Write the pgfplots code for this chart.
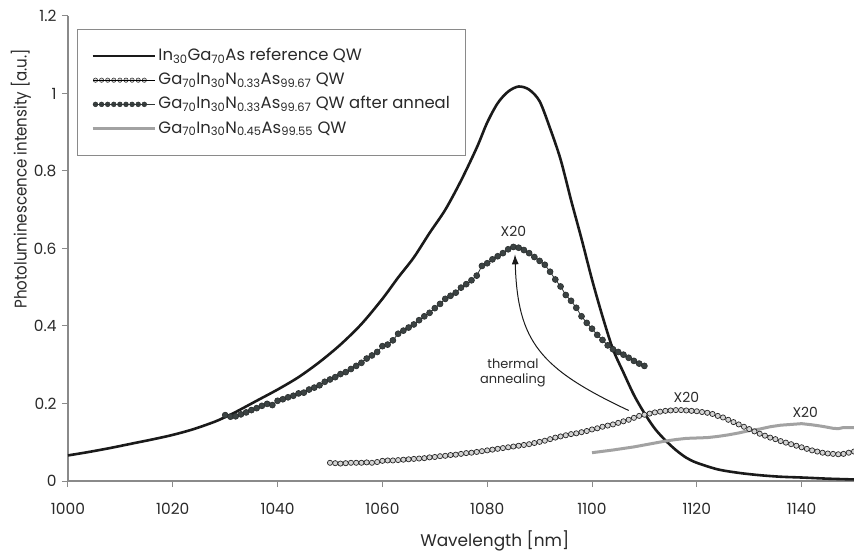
\documentclass[border=0pt]{standalone}
\usepackage{pgfplots}
\pgfplotsset{compat=1.18}
\usepackage{fontspec}
\setmainfont{Poppins}
\usetikzlibrary{arrows.meta}
\definecolor{refblack}{HTML}{1A1A1A}
\definecolor{darkdot}{HTML}{3B4242}
\definecolor{opendot}{HTML}{D4D4D4}
\definecolor{graycurve}{HTML}{A2A2A2}
\definecolor{axgray}{HTML}{8A8A8A}
\definecolor{txt}{HTML}{2A2A2A}

\pgfplotstableread{
x y
1000 0.066
1004 0.075
1008 0.085
1012 0.096
1016 0.107
1020 0.119
1024 0.134
1028 0.153
1030 0.165
1032 0.178
1036 0.207
1040 0.236
1044 0.268
1048 0.307
1052 0.352
1056 0.405
1060 0.470
1063 0.525
1066 0.577
1069 0.640
1072 0.700
1075 0.775
1078 0.860
1080 0.925
1082 0.975
1084 1.005
1086 1.018
1088 1.010
1090 0.980
1092 0.910
1094 0.830
1096 0.725
1098 0.625
1100 0.520
1102 0.425
1104 0.340
1106 0.280
1108 0.222
1110 0.175
1112 0.135
1114 0.105
1116 0.080
1118 0.060
1120 0.047
1124 0.030
1128 0.021
1132 0.015
1136 0.011
1140 0.009
1145 0.006
1150 0.004
}\refqw

\pgfplotstableread{
x y
1050 .047
1051 .046
1052 .045
1053 .046
1054 .047
1055 .047
1056 .047
1057 .048
1058 .047
1059 .049
1060 .052
1061 .053
1062 .053
1063 .054
1064 .055
1065 .056
1066 .057
1067 .058
1068 .059
1069 .061
1070 .062
1071 .064
1072 .065
1073 .067
1074 .068
1075 .070
1076 .072
1077 .073
1078 .075
1079 .077
1080 .079
1081 .081
1082 .083
1083 .085
1084 .087
1085 .089
1086 .091
1087 .093
1088 .095
1089 .098
1090 .101
1091 .104
1092 .108
1093 .112
1094 .115
1095 .118
1096 .121
1097 .123
1098 .126
1099 .129
1100 .133
1101 .136
1102 .140
1103 .143
1104 .146
1105 .150
1106 .154
1107 .158
1108 .163
1109 .168
1110 .171
1111 .174
1112 .177
1113 .179
1114 .181
1115 .182
1116 .183
1117 .183
1118 .182
1119 .181
1120 .180
1121 .178
1122 .176
1123 .173
1124 .168
1125 .164
1126 .158
1127 .152
1128 .146
1129 .140
1130 .134
1131 .128
1132 .122
1133 .117
1134 .112
1135 .108
1136 .103
1137 .099
1138 .095
1139 .091
1140 .087
1141 .083
1142 .079
1143 .076
1144 .073
1145 .071
1146 .070
1147 .069
1148 .070
1149 .073
1150 .076
}\asgrown

\pgfplotstableread{
x y
1030 .170
1031 .166
1032 .167
1033 .172
1034 .177
1035 .183
1036 .188
1037 .194
1038 .199
1039 .196
1040 .207
1041 .211
1042 .216
1043 .220
1044 .226
1045 .228
1046 .236
1047 .241
1048 .247
1049 .256
1050 .262
1051 .268
1052 .276
1053 .281
1054 .289
1055 .297
1056 .305
1057 .316
1058 .324
1059 .333
1060 .348
1061 .352
1062 .363
1063 .380
1064 .388
1065 .396
1066 .404
1067 .415
1068 .425
1069 .434
1070 .446
1071 .457
1072 .470
1073 .478
1074 .486
1075 .499
1076 .508
1077 .518
1078 .530
1079 .555
1080 .562
1081 .572
1082 .580
1083 .588
1084 .598
1085 .604
1086 .602
1087 .596
1088 .588
1089 .578
1090 .568
1091 .558
1092 .540
1093 .520
1094 .502
1095 .480
1096 .465
1097 .447
1098 .425
1099 .408
1100 .393
1101 .377
1102 .364
1103 .350
1104 .340
1105 .333
1106 .326
1107 .318
1108 .310
1109 .303
1110 .297
}\annealed

\pgfplotstableread{
x y
1100 .073
1104 .080
1108 .088
1112 .098
1114 .103
1116 .107
1118 .110
1120 .111
1122 .112
1124 .115
1126 .119
1128 .124
1130 .130
1132 .134
1134 .140
1136 .144
1138 .146
1140 .148
1142 .145
1144 .141
1146 .136
1147 .135
1148 .138
1150 .138
}\highN

\begin{document}
\begin{tikzpicture}
\begin{axis}[
  name=ax,
  scale only axis,
  width=786bp, height=465bp,
  xmin=1000, xmax=1150, ymin=0, ymax=1.2,
  axis x line*=bottom, axis y line*=left,
  axis line style={axgray, line width=1.1bp},
  xtick={1000,1020,...,1140},
  ytick={0,0.2,0.4,0.6,0.8,1,1.2},
  yticklabels={0,0.2,0.4,0.6,0.8,1,1.2},
  xticklabels={1000,1020,1040,1060,1080,1100,1120,1140},
  tick align=outside,
  major tick length=6bp,
  tick style={axgray, line width=1bp},
  tick label style={font=\fontsize{15.5}{15.5}\selectfont, text=txt},
  xticklabel style={yshift=-13bp},
  yticklabel style={xshift=-2bp},
  /pgf/number format/assume math mode=true,
  xlabel={Wavelength [nm]},
  ylabel={\scalebox{0.89}[1]{Photoluminescence intensity [a.u.]}},
  label style={font=\fontsize{17}{17}\selectfont, text=txt},
  xlabel style={at={(axis description cs:0.543,0)}, anchor=center, yshift=-60bp},
  ylabel style={at={(axis description cs:-0.0598,0.65)}, anchor=center},
  clip=false,
  legend cell align=left,
  legend style={at={(0,1)}, anchor=north west, xshift=9bp, yshift=-13bp,
    draw=axgray, line width=1bp, font=\fontsize{16.5}{16.5}\selectfont,
    text=txt, inner xsep=14bp, inner ysep=16bp, row sep=3.2bp,
    nodes={text height=13bp, text depth=4bp}},
]
\addplot[refblack, line width=2.6bp, smooth, tension=0.5,
  legend image code/.code={\draw[refblack, line width=2.6bp] (0bp,0bp) -- (54bp,0bp); \path (0bp,0bp) -- (62bp,0bp);}]
  table[x=x,y=y] {\refqw};
\addlegendentry{In\textsubscript{30}Ga\textsubscript{70}As reference QW}

\addplot[only marks, mark=*, mark size=2.6bp,
  mark options={fill=opendot, draw=black!85, line width=0.7bp},
  legend image code/.code={\foreach \i in {0,...,8} {\draw[fill=opendot, draw=black!85, line width=0.5bp] (\i*6.1bp+2.5bp,0bp) circle (2.2bp);} \path (0bp,0bp) -- (62bp,0bp);}]
  table[x=x,y=y] {\asgrown};
\addlegendentry{Ga\textsubscript{70}In\textsubscript{30}N\textsubscript{0.33}As\textsubscript{99.67} QW}

\addplot[darkdot!80!black, line width=0.8bp, mark=*, mark size=3bp,
  mark options={fill=darkdot, draw=darkdot!70!black, line width=0.6bp},
  legend image code/.code={\draw[darkdot, line width=0.7bp] (0bp,0bp) -- (51bp,0bp); \foreach \i in {0,...,8} {\draw[fill=darkdot, draw=darkdot!70!black, line width=0.5bp] (\i*6.1bp+2.5bp,0bp) circle (2.4bp);} \path (0bp,0bp) -- (62bp,0bp);}]
  table[x=x,y=y] {\annealed};
\addlegendentry{Ga\textsubscript{70}In\textsubscript{30}N\textsubscript{0.33}As\textsubscript{99.67} QW after anneal}

\addplot[graycurve, line width=3bp,
  legend image code/.code={\draw[graycurve, line width=3bp] (0bp,0bp) -- (54bp,0bp); \path (0bp,0bp) -- (62bp,0bp);}]
  table[x=x,y=y] {\highN};
\addlegendentry{Ga\textsubscript{70}In\textsubscript{30}N\textsubscript{0.45}As\textsubscript{99.55} QW}

\node[font=\fontsize{14}{14}\selectfont, text=txt] at (axis cs:1085,0.645) {X20};
\node[font=\fontsize{14}{14}\selectfont, text=txt] at (axis cs:1118,0.215) {X20};
\node[font=\fontsize{14}{14}\selectfont, text=txt] at (axis cs:1140.7,0.177) {X20};
\node[font=\fontsize{13}{15}\selectfont, text=txt, align=center] at (axis cs:1084.9,0.28) {thermal\\annealing};
\draw[refblack, line width=1bp, -{Latex[length=10bp,width=7bp]}]
  (axis cs:1107,0.182) .. controls (axis cs:1090,0.29) and (axis cs:1085.8,0.36) .. (axis cs:1085.3,0.585);
\end{axis}
\pgfresetboundingbox
\path[use as bounding box] ([xshift=-68bp,yshift=-72bp]ax.south west) rectangle ([yshift=16bp]ax.north east);
\end{tikzpicture}
\end{document}
